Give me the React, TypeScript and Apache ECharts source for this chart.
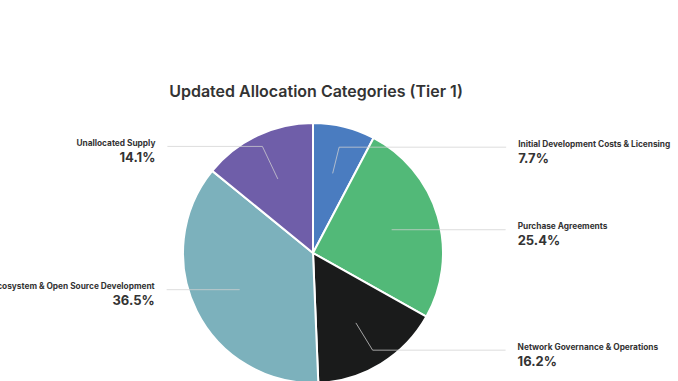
import React, { useEffect, useRef } from 'react';
import * as echarts from 'echarts';

const chartTitle = 'Updated Allocation Categories (Tier 1)';
const categories = [
  'Initial Development Costs & Licensing',
  'Purchase Agreements',
  'Network Governance & Operations',
  'Ecosystem & Open Source Development',
  'Unallocated Supply',
];
const shares = [7.7, 25.4, 16.2, 36.5, 14.1];

const sliceColors = ['#4a7cc0', '#52b978', '#1a1b1b', '#7cb1bc', '#6f5ea9'];
// leader-line shape per slice (radial segment, horizontal segment)
const leaderLen1 = [27, 0, 32, 0, 36];
const leaderLen2 = [167, 114, 133, 73, 95];

export default function App() {
  const ref = useRef<HTMLDivElement>(null);
  useEffect(() => {
    const chart = echarts.init(ref.current!, null, { renderer: 'svg' });
    const font = 'Inter, "Noto Sans", sans-serif';
    chart.setOption({
      animation: false,
      title: {
        text: chartTitle,
        left: 311,
        top: 78,
        textAlign: 'center',
        textStyle: { fontFamily: font, fontSize: 16, fontWeight: 600, color: '#333333' },
      },
      series: [
        {
          type: 'pie',
          z: 2,
          center: [313, 253],
          radius: 130,
          startAngle: 90,
          silent: true,
          label: { show: false },
          labelLine: { show: false },
          itemStyle: { borderColor: '#ffffff', borderWidth: 2 },
          data: categories.map((name, i) => ({
            name,
            value: shares[i],
            itemStyle: { color: sliceColors[i] },
          })),
        },
        {
          type: 'pie',
          z: 6,
          center: [313, 253],
          radius: 82,
          startAngle: 90,
          silent: true,
          itemStyle: { color: 'rgba(0,0,0,0)' },
          label: {
            show: true,
            position: 'outside',
            alignTo: 'none',
            distanceToLabelLine: 12,
            width: 200,
            padding: [9, 0, 0, 0],
            formatter: '{n|{b}}\n{v|{c}%}',
            rich: {
              n: { fontFamily: font, fontSize: 8.3, fontWeight: 700, color: '#333', lineHeight: 12 },
              v: { fontFamily: font, fontSize: 13, fontWeight: 700, color: '#333', lineHeight: 16 },
            },
          },
          labelLine: {
            show: true,
            lineStyle: { color: '#d2d2d2', width: 1, opacity: 0.75 },
          },
          data: categories.map((name, i) => ({
            name,
            value: shares[i],
            labelLine: { length: leaderLen1[i], length2: leaderLen2[i] },
          })),
        },
      ],
    });
    return () => chart.dispose();
  }, []);
  return (
    <div
      ref={ref}
      style={{ position: 'absolute', left: 0, top: 0, width: 678, height: 381 }}
    />
  );
}
